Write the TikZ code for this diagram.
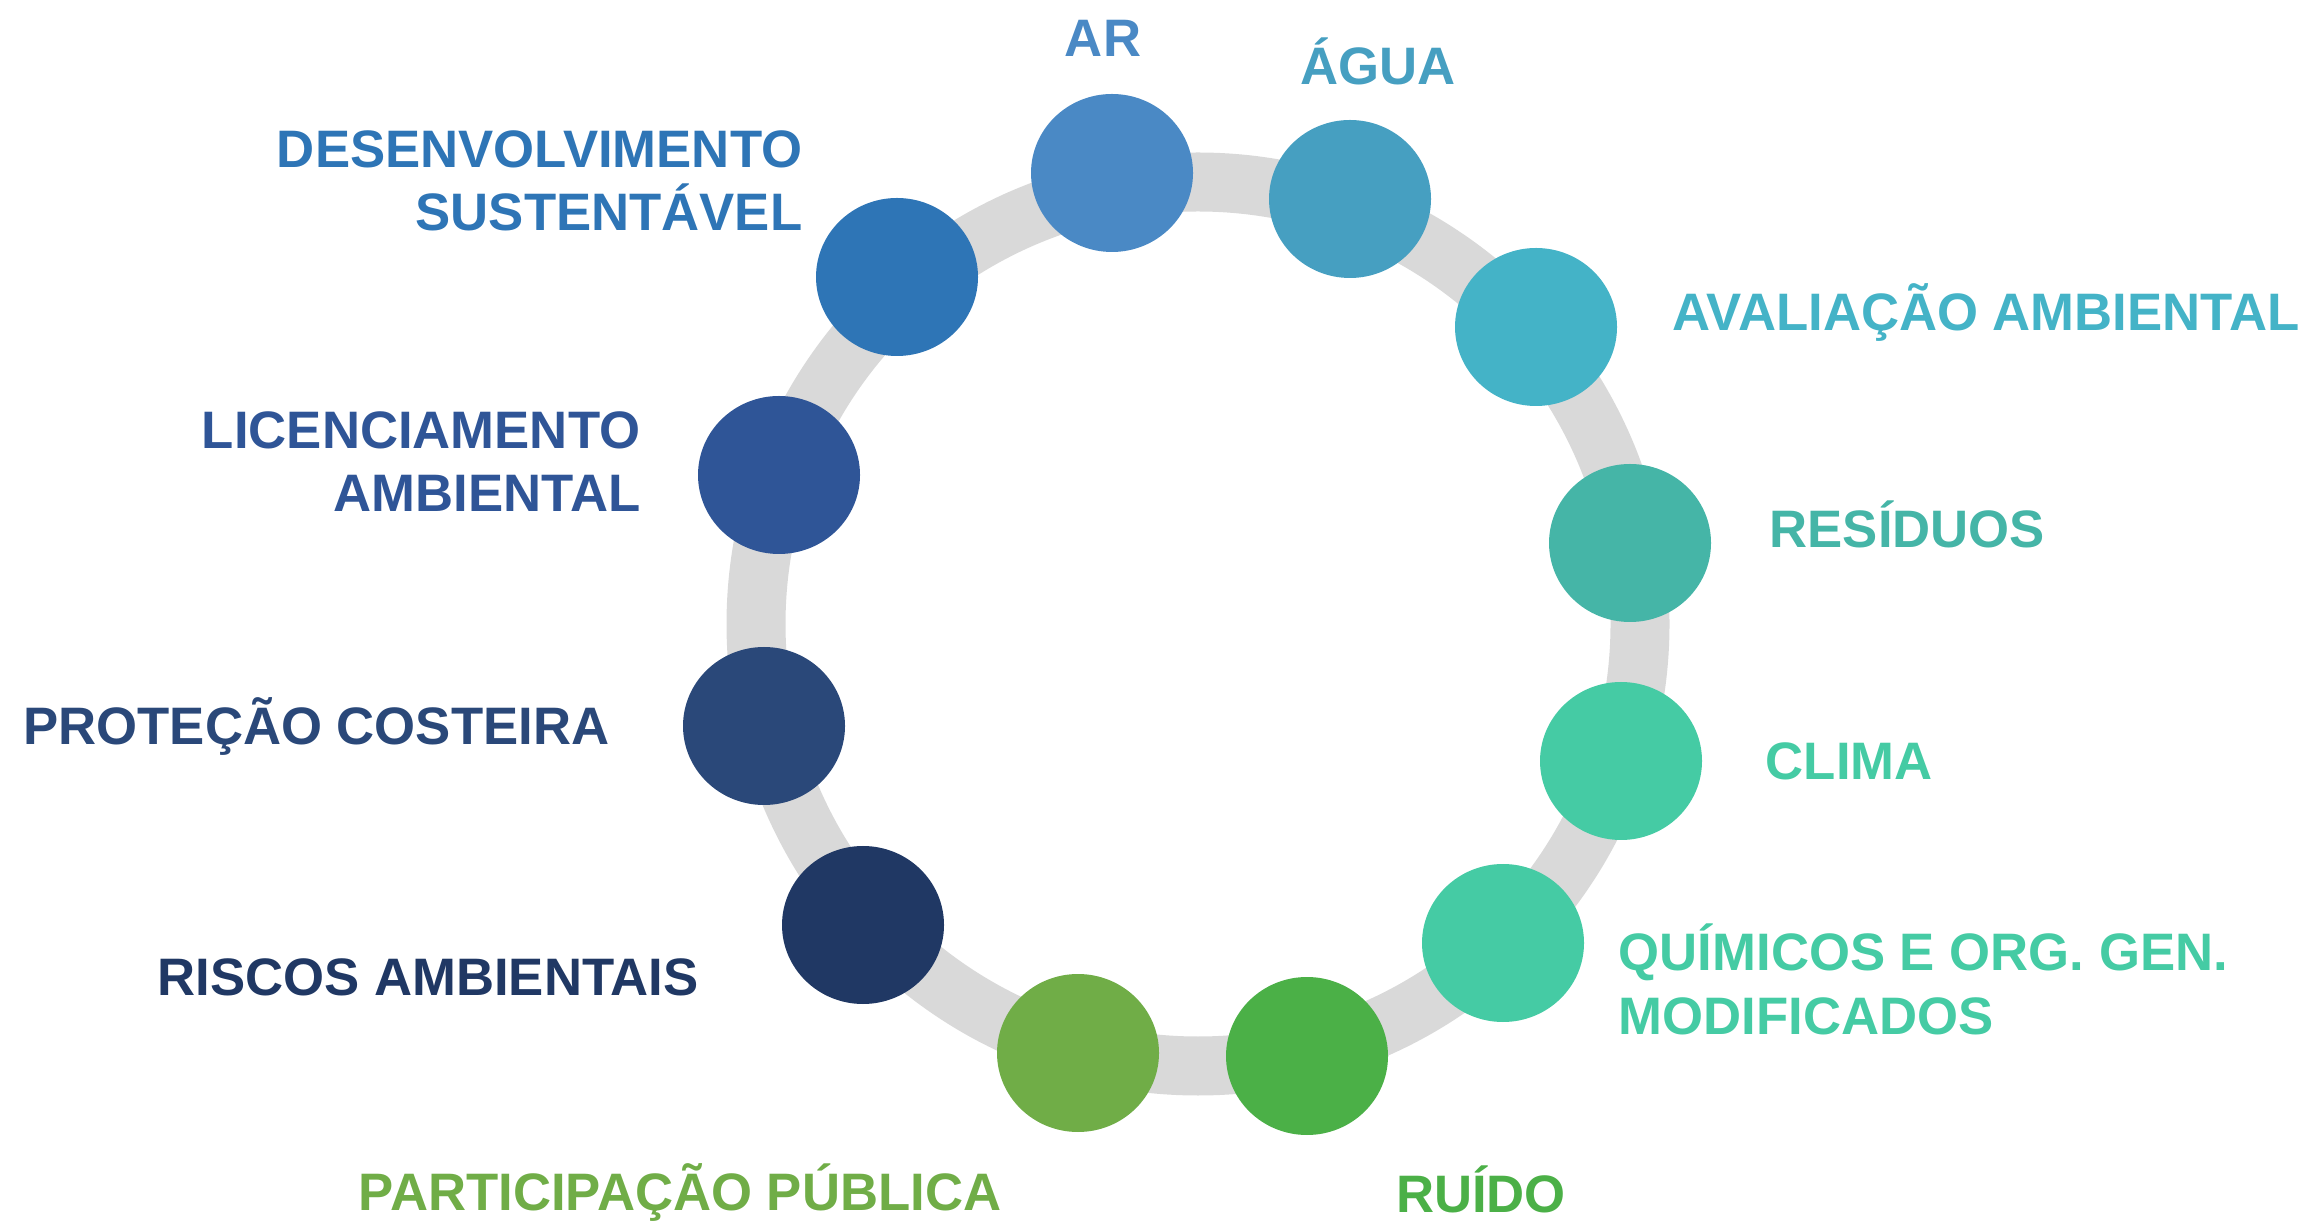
\documentclass[tikz,border=0pt]{standalone}
\usepackage{fontspec}
\setmainfont{Liberation Sans}
\usetikzlibrary{shapes.geometric}

\definecolor{ringgray}{HTML}{D9D9D9}
\definecolor{cAr}{HTML}{4A89C5}
\definecolor{cAgua}{HTML}{469FC1}
\definecolor{cAval}{HTML}{44B3C7}
\definecolor{cRes}{HTML}{45B5A7}
\definecolor{cClima}{HTML}{45CBA4}
\definecolor{cQuim}{HTML}{45CBA4}
\definecolor{cRuido}{HTML}{4BB047}
\definecolor{cPart}{HTML}{70AD47}
\definecolor{cRiscos}{HTML}{203864}
\definecolor{cProt}{HTML}{2A4879}
\definecolor{cLic}{HTML}{2F5597}
\definecolor{cDes}{HTML}{2E75B6}

\begin{document}
\begin{tikzpicture}
        [every node/.style={inner sep=0,font=\bfseries\fontsize{15}{18}\selectfont},
         dot/.style={shape=ellipse,fill=#1,minimum width=1.62cm,minimum height=1.58cm},
         ring/.style={draw=ringgray,line width=0.59cm}]

        \useasboundingbox (0,0) rectangle (23.13,12.21);

        \coordinate (c) at (11.98, 5.97);
        \draw[ring] (c) circle (4.42cm);

        \node[dot=cAr] (ar) at (11.12, 10.48) {};
        \node[dot=cAgua] (agua) at (13.50, 10.22) {};
        \node[dot=cAval] (aval) at (15.36, 8.94) {};
        \node[dot=cRes] (res) at (16.30, 6.78) {};
        \node[dot=cClima] (clima) at (16.21, 4.60) {};
        \node[dot=cQuim] (quim) at (15.03, 2.78) {};
        \node[dot=cRuido] (ruido) at (13.07, 1.65) {};
        \node[dot=cPart] (part) at (10.78, 1.68) {};
        \node[dot=cRiscos] (riscos) at (8.63, 2.96) {};
        \node[dot=cProt] (prot) at (7.64, 4.95) {};
        \node[dot=cLic] (lic) at (7.79, 7.46) {};
        \node[dot=cDes] (des) at (8.97, 9.44) {};

        \node[text=cAr,anchor=base] (t-ar) at (11.03, 11.645) {AR};
        \node[text=cAgua,anchor=base] (t-agua) at (13.78, 11.36) {ÁGUA};
        \node[text=cAval,anchor=base west] (t-aval) at (16.72, 8.90) {AVALIAÇÃO AMBIENTAL};
        \node[text=cRes,anchor=base west] (t-res) at (17.69, 6.73) {RESÍDUOS};
        \node[text=cClima,anchor=base west] (t-clima) at (17.65, 4.41) {CLIMA};
        \node[text=cQuim,anchor=base west,align=left] (t-quim) at (16.18, 1.87) {QUÍMICOS E ORG. GEN.\\MODIFICADOS};
        \node[text=cRuido,anchor=base] (t-ruido) at (14.81, 0.09) {RUÍDO};
        \node[text=cPart,anchor=base] (t-part) at (6.80, 0.11) {PARTICIPAÇÃO PÚBLICA};
        \node[text=cRiscos,anchor=base east] (t-riscos) at (6.99, 2.26) {RISCOS AMBIENTAIS};
        \node[text=cProt,anchor=base east] (t-prot) at (6.10, 4.76) {PROTEÇÃO COSTEIRA};
        \node[text=cLic,anchor=base east,align=right] (t-lic) at (6.41, 7.09) {LICENCIAMENTO\\AMBIENTAL};
        \node[text=cDes,anchor=base east,align=right] (t-des) at (8.03, 9.90) {DESENVOLVIMENTO\\SUSTENTÁVEL};
      \end{tikzpicture}
\end{document}
